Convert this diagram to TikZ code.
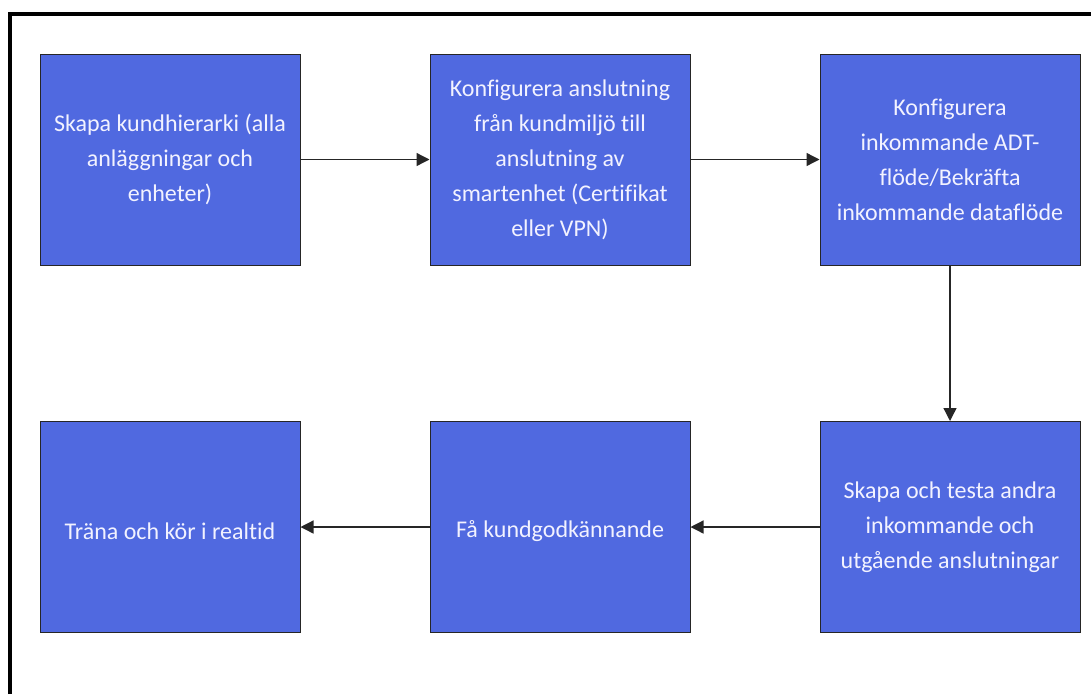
\documentclass[tikz,border=0pt]{standalone}
\usepackage{fontspec}
\setmainfont{Carlito}[Ligatures=NoCommon]
\usetikzlibrary{arrows.meta}
\definecolor{boxblue}{RGB}{80,105,224}
\definecolor{boxtext}{RGB}{242,242,255}
\tikzset{
  stepbox/.style={draw=black!85, line width=1pt, fill=boxblue, minimum width=260pt, minimum height=211pt,
    inner sep=0pt, text=boxtext, align=center, font=\fontsize{24}{35}\selectfont,
    execute at begin node={\rule{0pt}{26pt}}},
  flow/.style={draw=black!85, line width=1.3pt, -{Triangle[length=13pt,width=13pt]}}
}
\begin{document}
\begin{tikzpicture}[x=1pt,y=-1pt]
\useasboundingbox (0,0) rectangle (1091,694);
\draw[line width=4pt, black] (9.5,694) -- (9.5,14) -- (1091,14);
\node[stepbox] (a) at (170,159.5) {Skapa kundhierarki (alla\\anläggningar och\\enheter)};
\node[stepbox] (b) at (560,159.5) {Konfigurera anslutning\\från kundmiljö till\\anslutning av\\smartenhet (Certifikat\\eller VPN)};
\node[stepbox] (c) at (950,159.5) {Konfigurera\\inkommande ADT-\\flöde/Bekräfta\\inkommande dataflöde};
\node[stepbox] (f) at (950,527) {Skapa och testa andra\\inkommande och\\utgående anslutningar};
\node[stepbox] (e) at (560,527) {Få kundgodkännande};
\node[stepbox] (d) at (170,527) {Träna och kör i realtid};
\draw[flow] (a) -- (b);
\draw[flow] (b) -- (c);
\draw[flow] (c) -- (f);
\draw[flow] (f) -- (e);
\draw[flow] (e) -- (d);
\end{tikzpicture}
\end{document}
